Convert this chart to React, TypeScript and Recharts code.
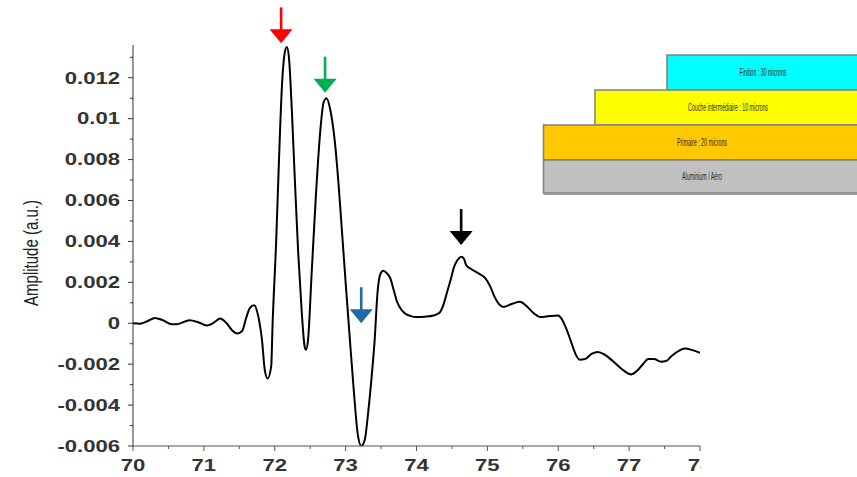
import React from "react";
import { LineChart, Line, XAxis, YAxis, ReferenceDot } from "recharts";

// ---- data (x in position units, amplitude in a.u.) ----
const xValues = [
  70.0, 70.1, 70.2, 70.31, 70.42, 70.55, 70.62, 70.8, 70.92, 71.04, 71.15, 71.23, 71.32, 71.4, 71.47,
  71.54, 71.6, 71.65, 71.71, 71.77, 71.82, 71.86, 71.9, 71.95, 71.97, 72.02, 72.06, 72.1, 72.14, 72.17,
  72.2, 72.24, 72.28, 72.33, 72.38, 72.42, 72.44, 72.47, 72.52, 72.58, 72.64, 72.69, 72.73, 72.78,
  72.85, 72.9, 72.94, 73.0, 73.06, 73.12, 73.17, 73.22, 73.27, 73.32, 73.37, 73.41, 73.45, 73.49,
  73.53, 73.58, 73.63, 73.68, 73.72, 73.77, 73.83, 73.92, 74.0, 74.12, 74.24, 74.32, 74.38, 74.43,
  74.48, 74.53, 74.58, 74.63, 74.67, 74.7, 74.77, 74.87, 74.97, 75.04, 75.1, 75.16, 75.23, 75.35,
  75.46, 75.55, 75.65, 75.75, 75.88, 76.0, 76.05, 76.1, 76.15, 76.2, 76.25, 76.3, 76.38, 76.47,
  76.56, 76.66, 76.77, 76.9, 77.03, 77.12, 77.2, 77.27, 77.35, 77.45, 77.52, 77.6, 77.7, 77.79,
  77.88, 78.0,
];
const amplitudes = [
  0.0, -0.00002, 0.0001, 0.00026, 0.00015, -0.00005, -0.00005, 0.00015, 0.00005, -0.00011, 0.00005,
  0.00023, 0.0, -0.00035, -0.0005, -0.00038, 0.0003, 0.00075, 0.00088, 0.0003, -0.00083, -0.0023,
  -0.0027, -0.0021, 0.0, 0.004, 0.008, 0.0115, 0.0132, 0.0135, 0.013, 0.0105, 0.0073, 0.0035, 0.0006,
  -0.0011, -0.0013, -0.0008, 0.0024, 0.0062, 0.0093, 0.0108, 0.011, 0.0105, 0.0088, 0.0068, 0.0049,
  0.002, -0.0008, -0.0035, -0.0054, -0.006, -0.0057, -0.0043, -0.0025, -0.0008, 0.0015, 0.0024,
  0.00256, 0.00245, 0.0022, 0.0016, 0.0011, 0.00075, 0.0005, 0.00035, 0.0003, 0.00032, 0.00038,
  0.0005, 0.0009, 0.0015, 0.0021, 0.00275, 0.0031, 0.00325, 0.00315, 0.00285, 0.00265, 0.00245,
  0.0022, 0.0018, 0.0013, 0.00095, 0.0008, 0.00095, 0.00105, 0.00085, 0.0005, 0.0003, 0.00035,
  0.00038, 0.0002, -0.00015, -0.0006, -0.0011, -0.00155, -0.00178, -0.00175, -0.0015, -0.0014,
  -0.00155, -0.00185, -0.00225, -0.0025, -0.0023, -0.00198, -0.00175, -0.00175, -0.00188, -0.00185,
  -0.0016, -0.00135, -0.00124, -0.0013, -0.00145,
];

const xMajorTicks = [70, 71, 72, 73, 74, 75, 76, 77, 78];
const xMinorTicks = [70.5, 71.5, 72.5, 73.5, 74.5, 75.5, 76.5, 77.5];
const yMajorTicks = [-0.006, -0.004, -0.002, 0, 0.002, 0.004, 0.006, 0.008, 0.01, 0.012];
const yMinorTicks = [-0.005, -0.003, -0.001, 0.001, 0.003, 0.005, 0.007, 0.009, 0.011, 0.013];

const arrowXs = [72.09, 72.71, 73.22, 74.63];
const arrowTips = [0.01368, 0.01127, 0.0, 0.00382];
const arrowColors = ["#ff0000", "#00b050", "#1f6aa5", "#000000"];

const layerLabels = ["Finition : 30 microns", "Couche intermédiaire : 10 microns", "Primaire : 20 microns", "Aluminium / Aéro"];
const layerColors = ["#00ffff", "#ffff00", "#ffc800", "#c0c0c0"];

const data = xValues.map((x, i) => ({ x, amp: amplitudes[i] }));
const arrows = arrowXs.map((x, i) => ({ x, y: arrowTips[i], color: arrowColors[i] }));

const TICK_SIZE = 5;
const TICK_MARGIN = 8;
const SX = 1.38;
const FONT = "'Liberation Sans', Arial, sans-serif";

const isIn = (arr: number[], v: number) => arr.some((t) => Math.abs(t - v) < 1e-9);

const YTick = (props: any) => {
  const { x, y, payload } = props;
  const v = payload.value;
  const major = isIn(yMajorTicks, v);
  const ax = x + TICK_SIZE + TICK_MARGIN;
  return (
    <g>
      <line x1={ax - (major ? 5 : 3)} x2={ax} y1={y} y2={y} stroke="#333" strokeWidth={1} />
      {major && (
        <text
          transform={`translate(${x},${y}) scale(${SX},1)`}
          textAnchor="end"
          dy="0.36em"
          fontFamily={FONT}
          fontWeight="bold"
          fontSize={16}
          fill="#333"
        >
          {String(Number(v.toFixed(3)))}
        </text>
      )}
    </g>
  );
};

const XTick = (props: any) => {
  const { x, y, payload } = props;
  const v = payload.value;
  const major = isIn(xMajorTicks, v);
  const ay = y - TICK_SIZE - TICK_MARGIN;
  return (
    <g>
      <line x1={x} x2={x} y1={ay} y2={ay + (major ? 5 : 3)} stroke="#555" strokeWidth={1} />
      {major && (
        <text
          transform={`translate(${x},${y + 12}) scale(${SX},1)`}
          textAnchor="middle"
          fontFamily={FONT}
          fontWeight="bold"
          fontSize={16}
          fill="#333"
        >
          {String(v)}
        </text>
      )}
    </g>
  );
};

const ArrowShape = (props: any) => {
  const { cx, cy, color } = props;
  const head = 14;
  const shaft = 22;
  const hw = 11.5;
  return (
    <g>
      <line x1={cx} x2={cx} y1={cy - head - shaft} y2={cy - head + 1} stroke={color} strokeWidth={2.6} />
      <polygon points={`${cx - hw},${cy - head} ${cx + hw},${cy - head} ${cx},${cy}`} fill={color} />
    </g>
  );
};

const layerBoxes = [
  { x: 667, y: 55, w: 200, h: 35, tx: 763, tl: 47 },
  { x: 595, y: 90, w: 272, h: 35, tx: 728, tl: 80 },
  { x: 543.5, y: 125, w: 323, h: 35, tx: 702, tl: 50 },
  { x: 543.5, y: 160, w: 323, h: 33, tx: 702, tl: 40 },
];

export default function App() {
  return (
    <div style={{ position: "absolute", left: 0, top: 0, width: 857, height: 477, background: "#fff" }}>
      <LineChart width={857} height={477} data={data} margin={{ top: 45, right: 157, bottom: 0, left: 0 }}>
        <XAxis
          dataKey="x"
          type="number"
          domain={[70, 78]}
          ticks={[...xMajorTicks, ...xMinorTicks].sort((a, b) => a - b)}
          interval={0}
          height={31}
          tickSize={TICK_SIZE}
          tickMargin={TICK_MARGIN}
          tickLine={false}
          axisLine={{ stroke: "#555", strokeWidth: 1 }}
          tick={<XTick />}
          allowDataOverflow
        />
        <YAxis
          type="number"
          domain={[-0.006, 0.0136]}
          ticks={[...yMajorTicks, ...yMinorTicks].sort((a, b) => a - b)}
          interval={0}
          width={133}
          tickSize={TICK_SIZE}
          tickMargin={TICK_MARGIN}
          tickLine={false}
          axisLine={{ stroke: "#333", strokeWidth: 1 }}
          tick={<YTick />}
          allowDataOverflow
        />
        <Line
          type="monotone"
          dataKey="amp"
          stroke="#000"
          strokeWidth={2}
          dot={false}
          isAnimationActive={false}
        />
        {arrows.map((a, i) => (
          <ReferenceDot
            key={i}
            x={a.x}
            y={a.y}
            ifOverflow="visible"
            shape={(p: any) => <ArrowShape {...p} color={a.color} />}
          />
        ))}
      </LineChart>
      <svg
        width={857}
        height={477}
        style={{ position: "absolute", left: 0, top: 0, pointerEvents: "none" }}
      >
        <rect x={701} y={200} width={156} height={277} fill="#fff" />
        <text
          transform="translate(31,253) scale(1.3,1) rotate(-90)"
          textAnchor="middle"
          dy="0.35em"
          fontFamily={FONT}
          fontSize={15}
          fill="#222"
        >
          Amplitude (a.u.)
        </text>
        {layerBoxes.map((b, i) => (
          <g key={i}>
            <rect x={b.x} y={b.y} width={b.w} height={b.h} fill={layerColors[i]} stroke="#808080" strokeWidth={1.5} />
            <text
              x={b.tx}
              y={b.y + b.h / 2}
              dy="0.35em"
              textAnchor="middle"
              fontFamily={FONT}
              fontSize={10.5}
              fill="#2a2a2a"
              textLength={b.tl}
              lengthAdjust="spacingAndGlyphs"
            >
              {layerLabels[i]}
            </text>
          </g>
        ))}
        <line x1={543.5} x2={857} y1={194} y2={194} stroke="#999" strokeWidth={2} />
      </svg>
    </div>
  );
}
